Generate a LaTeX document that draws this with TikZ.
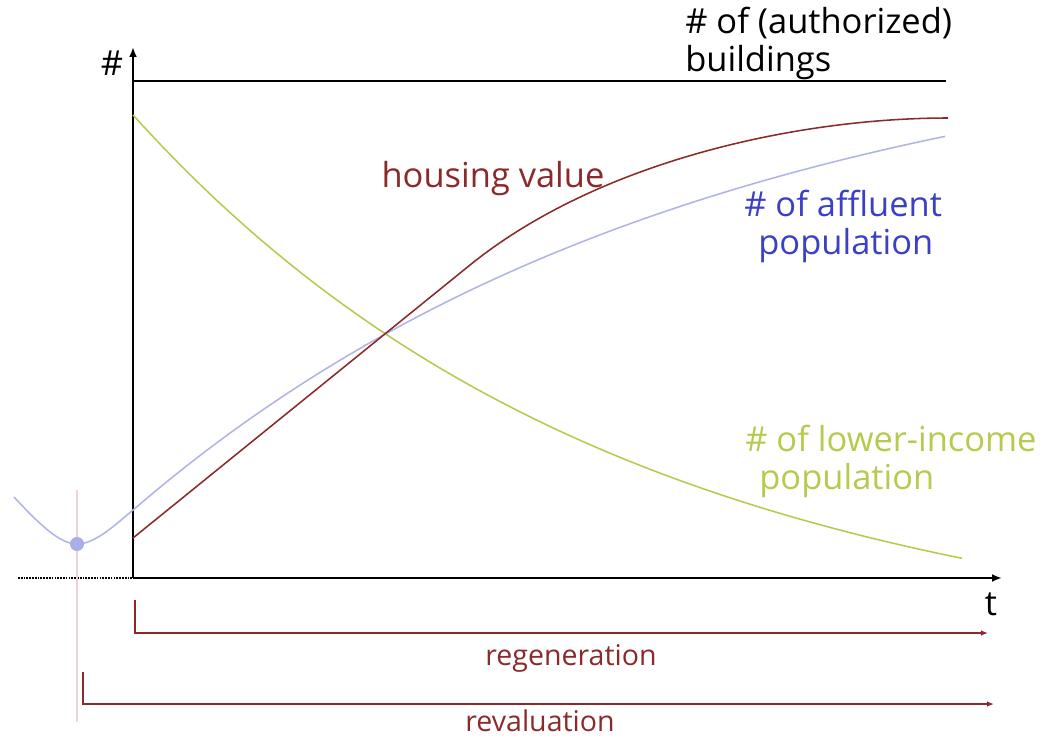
\documentclass[tikz,border=0pt]{standalone}
\usepackage{fontspec}
\setmainfont{Open Sans}
\usetikzlibrary{arrows.meta}
\definecolor{hvred}{HTML}{8B2A2A}
\definecolor{afblue}{HTML}{3B40C4}
\definecolor{afline}{HTML}{B0B4E6}
\definecolor{afdot}{HTML}{A9AEE8}
\definecolor{lowgreen}{HTML}{B6CB4E}
\definecolor{markpink}{HTML}{F2D2D9}
\newcommand{\lbsize}{\fontsize{24.5}{26.5}\selectfont}
\newcommand{\pdsize}{\fontsize{20.3}{24}\selectfont}

\begin{document}
\begin{tikzpicture}[x=0.025cm,y=-0.025cm,
	axisline/.style={line width=1.6pt},
	axisarrow/.style={axisline,-{Latex[length=7pt,width=5.5pt]}},
	curve/.style={line width=1.1pt},
	bracket/.style={draw=hvred,line width=1.1pt,-{Latex[length=5pt,width=4pt]}},
	lbl/.style={font=\lbsize,inner sep=0pt},
	pdlbl/.style={font=\pdsize,inner sep=0pt,text=hvred,anchor=base},
	dot/.style={circle,fill=afdot,inner sep=0pt,minimum size=10pt}]
	\useasboundingbox (0,0) rectangle (1043,737);
	%\draw[help lines,step=50] (0,0) grid (1043,737);

	% axes
	\coordinate (O) at (133,578);
	\coordinate (yTop) at (133,47);
	\coordinate (xEnd) at (1002,578);
	\coordinate (xLeft) at (18,578);
	\coordinate (bL) at (133,81);
	\coordinate (bR) at (946,81);
	\draw[axisline,dash pattern=on 1.2pt off 0.8pt] (xLeft) -- (O);
	\draw[axisarrow] (O) -- (yTop);
	\draw[axisarrow] (O) -- (xEnd);
	\draw[line width=1.4pt] (bL) -- (bR);
	\node[lbl,anchor=base] (hash) at (112,75) {\#};
	\node[lbl,anchor=base] (tlab) at (991,615) {t};
	% base = baseline of the last line
	\node[lbl,anchor=base west,align=left] (build) at (685,71) {\# of (authorized)\\buildings};

	% revaluation marker
	\coordinate (pkT) at (77,490);
	\coordinate (pkB) at (77,722);
	\draw[markpink,line width=0.8pt] (pkT) -- (pkB);

	% curves
	\draw[curve,lowgreen] plot[domain=133:962,samples=60] (\x,{658-543*exp(-0.00204*(\x-133))});
	\draw[curve,afline] (14,497) .. controls (40,525) and (60,544) .. (77,544)
		.. controls (95,544) and (115,525) .. (133,510)
		-- plot[domain=133:945,samples=60] (\x,{18+492*exp(-0.00175*(\x-133))});
	\draw[curve,hvred] (133,538) -- (470,265) .. controls (600,160) and (800,118) .. (948,118);
	\node[dot] (mn) at (77,544) {};

	% labels
	\node[lbl,text=hvred,anchor=base] (hv) at (493,187) {housing value};
	\node[lbl,text=afblue,anchor=base west,align=left] (af) at (744,254) {\# of affluent\\\hspace{10pt}population};
	\node[lbl,text=lowgreen,anchor=base west,align=left] (lw) at (745,489) {\# of lower-income\\\hspace{10pt}population};

	% periods
	\coordinate (rgS) at (135,600);
	\coordinate (rgE) at (988,633);
	\coordinate (rvS) at (83,672);
	\coordinate (rvE) at (994,704);
	\draw[bracket] (rgS) |- (rgE);
	\draw[bracket] (rvS) |- (rvE);
	\node[pdlbl] (rg) at (571,665) {regeneration};
	\node[pdlbl] (rv) at (540,731) {revaluation};
\end{tikzpicture}
\end{document}
